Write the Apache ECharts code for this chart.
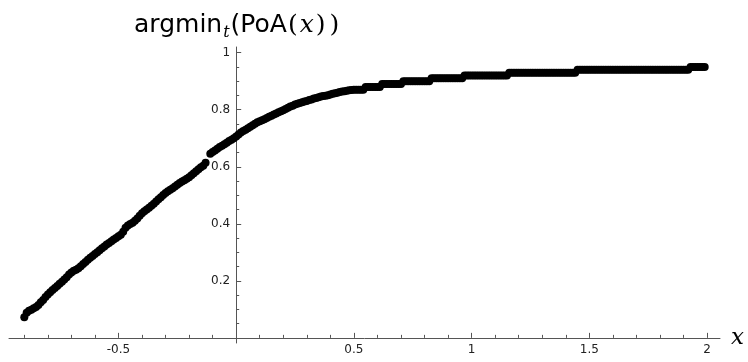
<!DOCTYPE html>
<html>
<head>
<meta charset="utf-8">
<script src="https://cdn.jsdelivr.net/npm/echarts@6.0.0/dist/echarts.min.js"></script>
<style>
  html, body { margin: 0; padding: 0; background: #fff; }
  #chart { width: 748px; height: 362px; }
</style>
</head>
<body>
<div id="chart"></div>
<script>
// sample points (x step 0.01, gap at -0.12)
const xValues = [
  -0.90, -0.89, -0.88, -0.87, -0.86, -0.85, -0.84, -0.83, -0.82, -0.81,
  -0.80, -0.79, -0.78, -0.77, -0.76, -0.75, -0.74, -0.73, -0.72, -0.71,
  -0.70, -0.69, -0.68, -0.67, -0.66, -0.65, -0.64, -0.63, -0.62, -0.61,
  -0.60, -0.59, -0.58, -0.57, -0.56, -0.55, -0.54, -0.53, -0.52, -0.51,
  -0.50, -0.49, -0.48, -0.47, -0.46, -0.45, -0.44, -0.43, -0.42, -0.41,
  -0.40, -0.39, -0.38, -0.37, -0.36, -0.35, -0.34, -0.33, -0.32, -0.31,
  -0.30, -0.29, -0.28, -0.27, -0.26, -0.25, -0.24, -0.23, -0.22, -0.21,
  -0.20, -0.19, -0.18, -0.17, -0.16, -0.15, -0.14, -0.13, -0.11, -0.10,
  -0.09, -0.08, -0.07, -0.06, -0.05, -0.04, -0.03, -0.02, -0.01, 0.00,
  0.01, 0.02, 0.03, 0.04, 0.05, 0.06, 0.07, 0.08, 0.09, 0.10,
  0.11, 0.12, 0.13, 0.14, 0.15, 0.16, 0.17, 0.18, 0.19, 0.20,
  0.21, 0.22, 0.23, 0.24, 0.25, 0.26, 0.27, 0.28, 0.29, 0.30,
  0.31, 0.32, 0.33, 0.34, 0.35, 0.36, 0.37, 0.38, 0.39, 0.40,
  0.41, 0.42, 0.43, 0.44, 0.45, 0.46, 0.47, 0.48, 0.49, 0.50,
  0.51, 0.52, 0.53, 0.54, 0.55, 0.56, 0.57, 0.58, 0.59, 0.60,
  0.61, 0.62, 0.63, 0.64, 0.65, 0.66, 0.67, 0.68, 0.69, 0.70,
  0.71, 0.72, 0.73, 0.74, 0.75, 0.76, 0.77, 0.78, 0.79, 0.80,
  0.81, 0.82, 0.83, 0.84, 0.85, 0.86, 0.87, 0.88, 0.89, 0.90,
  0.91, 0.92, 0.93, 0.94, 0.95, 0.96, 0.97, 0.98, 0.99, 1.00,
  1.01, 1.02, 1.03, 1.04, 1.05, 1.06, 1.07, 1.08, 1.09, 1.10,
  1.11, 1.12, 1.13, 1.14, 1.15, 1.16, 1.17, 1.18, 1.19, 1.20,
  1.21, 1.22, 1.23, 1.24, 1.25, 1.26, 1.27, 1.28, 1.29, 1.30,
  1.31, 1.32, 1.33, 1.34, 1.35, 1.36, 1.37, 1.38, 1.39, 1.40,
  1.41, 1.42, 1.43, 1.44, 1.45, 1.46, 1.47, 1.48, 1.49, 1.50,
  1.51, 1.52, 1.53, 1.54, 1.55, 1.56, 1.57, 1.58, 1.59, 1.60,
  1.61, 1.62, 1.63, 1.64, 1.65, 1.66, 1.67, 1.68, 1.69, 1.70,
  1.71, 1.72, 1.73, 1.74, 1.75, 1.76, 1.77, 1.78, 1.79, 1.80,
  1.81, 1.82, 1.83, 1.84, 1.85, 1.86, 1.87, 1.88, 1.89, 1.90,
  1.91, 1.92, 1.93, 1.94, 1.95, 1.96, 1.97, 1.98, 1.99
];

const yValues = [
  0.072, 0.088, 0.095, 0.099, 0.104, 0.108, 0.115, 0.125, 0.133, 0.143,
  0.152, 0.160, 0.168, 0.175, 0.182, 0.190, 0.197, 0.205, 0.213, 0.222,
  0.229, 0.235, 0.239, 0.244, 0.251, 0.259, 0.266, 0.274, 0.281, 0.287,
  0.294, 0.300, 0.307, 0.314, 0.320, 0.327, 0.333, 0.339, 0.345, 0.350,
  0.356, 0.362, 0.372, 0.386, 0.394, 0.399, 0.404, 0.411, 0.419, 0.428,
  0.437, 0.444, 0.450, 0.456, 0.463, 0.470, 0.478, 0.486, 0.493, 0.501,
  0.508, 0.514, 0.519, 0.525, 0.531, 0.537, 0.543, 0.548, 0.553, 0.558,
  0.563, 0.570, 0.577, 0.584, 0.591, 0.598, 0.604, 0.614, 0.646, 0.652,
  0.657, 0.663, 0.669, 0.674, 0.679, 0.684, 0.690, 0.695, 0.700, 0.706,
  0.713, 0.720, 0.725, 0.730, 0.735, 0.740, 0.746, 0.751, 0.756, 0.760,
  0.763, 0.767, 0.771, 0.775, 0.779, 0.783, 0.787, 0.791, 0.795, 0.798,
  0.803, 0.807, 0.811, 0.814, 0.818, 0.821, 0.824, 0.826, 0.829, 0.831,
  0.834, 0.836, 0.839, 0.841, 0.844, 0.846, 0.848, 0.849, 0.851, 0.853,
  0.856, 0.858, 0.860, 0.862, 0.864, 0.865, 0.867, 0.868, 0.869, 0.870,
  0.87, 0.87, 0.87, 0.87, 0.88, 0.88, 0.88, 0.88, 0.88, 0.88,
  0.88, 0.89, 0.89, 0.89, 0.89, 0.89, 0.89, 0.89, 0.89, 0.89,
  0.90, 0.90, 0.90, 0.90, 0.90, 0.90, 0.90, 0.90, 0.90, 0.90,
  0.90, 0.90, 0.91, 0.91, 0.91, 0.91, 0.91, 0.91, 0.91, 0.91,
  0.91, 0.91, 0.91, 0.91, 0.91, 0.91, 0.92, 0.92, 0.92, 0.92,
  0.92, 0.92, 0.92, 0.92, 0.92, 0.92, 0.92, 0.92, 0.92, 0.92,
  0.92, 0.92, 0.92, 0.92, 0.92, 0.93, 0.93, 0.93, 0.93, 0.93,
  0.93, 0.93, 0.93, 0.93, 0.93, 0.93, 0.93, 0.93, 0.93, 0.93,
  0.93, 0.93, 0.93, 0.93, 0.93, 0.93, 0.93, 0.93, 0.93, 0.93,
  0.93, 0.93, 0.93, 0.93, 0.94, 0.94, 0.94, 0.94, 0.94, 0.94,
  0.94, 0.94, 0.94, 0.94, 0.94, 0.94, 0.94, 0.94, 0.94, 0.94,
  0.94, 0.94, 0.94, 0.94, 0.94, 0.94, 0.94, 0.94, 0.94, 0.94,
  0.94, 0.94, 0.94, 0.94, 0.94, 0.94, 0.94, 0.94, 0.94, 0.94,
  0.94, 0.94, 0.94, 0.94, 0.94, 0.94, 0.94, 0.94, 0.94, 0.94,
  0.94, 0.94, 0.95, 0.95, 0.95, 0.95, 0.95, 0.95, 0.95
];

// tick positions
const xLabelTicks = [-0.5, 0.5, 1, 1.5, 2];
const xMinorTicks = [
  -0.9, -0.8, -0.7, -0.6, -0.4, -0.3, -0.2, -0.1,
  0.1, 0.2, 0.3, 0.4, 0.6, 0.7, 0.8, 0.9,
  1.1, 1.2, 1.3, 1.4, 1.6, 1.7, 1.8, 1.9
];
const yLabelTicks = [0.2, 0.4, 0.6, 0.8, 1];
const yMinorTicks = [
  0.05, 0.1, 0.15, 0.25, 0.3, 0.35, 0.45, 0.5, 0.55,
  0.65, 0.7, 0.75, 0.85, 0.9, 0.95
];

const points = xValues.map((x, i) => [x, yValues[i]]);

// axis ranges and plot box
const xMin = -0.965, xMax = 2.055;
const yMin = -0.018, yMax = 1.02;
const gridBox = { left: 9, right: 28, top: 47, bottom: 19 };
const plotW = 748 - gridBox.left - gridBox.right;
const plotH = 362 - gridBox.top - gridBox.bottom;
// shift the axes so they cross at (0, 0)
const yAxisShift = -((0 - xMin) / (xMax - xMin)) * plotW;
const xAxisShift = -((0 - yMin) / (yMax - yMin)) * plotH;

const axisColor = "#555";
const labelFont = {
  color: "#222",
  fontFamily: "DejaVu Sans",
  fontSize: 12,
};

function makeX(main) {
  return {
    type: "value",
    min: xMin,
    max: xMax,
    position: "bottom",
    offset: xAxisShift,
    name: main ? "x" : "",
    nameLocation: "end",
    nameGap: 11,
    nameTextStyle: {
      fontFamily: "DejaVu Serif",
      fontStyle: "italic",
      fontSize: 23,
      color: "#000",
      padding: [0, 0, 19, 0],
    },
    axisLine: {
      show: main,
      onZero: false,
      lineStyle: { color: axisColor, width: 1 },
    },
    axisTick: {
      show: true,
      inside: true,
      length: main ? 5 : 3,
      customValues: main ? xLabelTicks : xMinorTicks,
      lineStyle: { color: axisColor },
    },
    axisLabel: {
      show: main,
      customValues: xLabelTicks,
      margin: 6,
      ...labelFont,
    },
    splitLine: { show: false },
  };
}

function makeY(main) {
  return {
    type: "value",
    min: yMin,
    max: yMax,
    position: "left",
    offset: yAxisShift,
    axisLine: {
      show: main,
      onZero: false,
      lineStyle: { color: axisColor, width: 1 },
    },
    axisTick: {
      show: true,
      inside: true,
      length: main ? 5 : 3,
      customValues: main ? yLabelTicks : yMinorTicks,
      lineStyle: { color: axisColor },
    },
    axisLabel: {
      show: main,
      customValues: yLabelTicks,
      margin: 6,
      ...labelFont,
    },
    splitLine: { show: false },
  };
}

const chart = echarts.init(document.getElementById("chart"), null, {
  renderer: "canvas",
});

const sans = { fontFamily: "DejaVu Sans", fontWeight: "normal", fontSize: 25, color: "#000", lineHeight: 32 };
const serif = { fontFamily: "DejaVu Serif", fontWeight: "normal", fontSize: 25, color: "#000", lineHeight: 32 };

chart.setOption({
  animation: false,
  backgroundColor: "#fff",
  title: {
    text: "{a|argmin}{t|t}{a|(PoA}{p|(}{x|x}{p|)}{q|)}",
    left: 129,
    top: 4,
    textStyle: {
      fontWeight: "normal",
      rich: {
        a: sans,
        t: {
          ...serif,
          fontStyle: "italic",
          fontSize: 16,
          verticalAlign: "bottom",
          padding: [0, 1, 0, 1],
        },
        p: { ...serif, padding: [0, 1, 0, 1] },
        q: { ...serif, padding: [0, 0, 0, 3] },
        x: { ...serif, fontStyle: "italic", padding: [0, 1, 0, 1] },
      },
    },
  },
  grid: {
    ...gridBox,
    containLabel: false,
    outerBoundsMode: "none",
  },
  xAxis: [makeX(true), makeX(false)],
  yAxis: [makeY(true), makeY(false)],
  series: [
    {
      type: "scatter",
      xAxisIndex: 0,
      yAxisIndex: 0,
      data: points,
      symbol: "circle",
      symbolSize: 8,
      itemStyle: { color: "#000", opacity: 1 },
      silent: true,
    },
  ],
});
</script>
</body>
</html>
